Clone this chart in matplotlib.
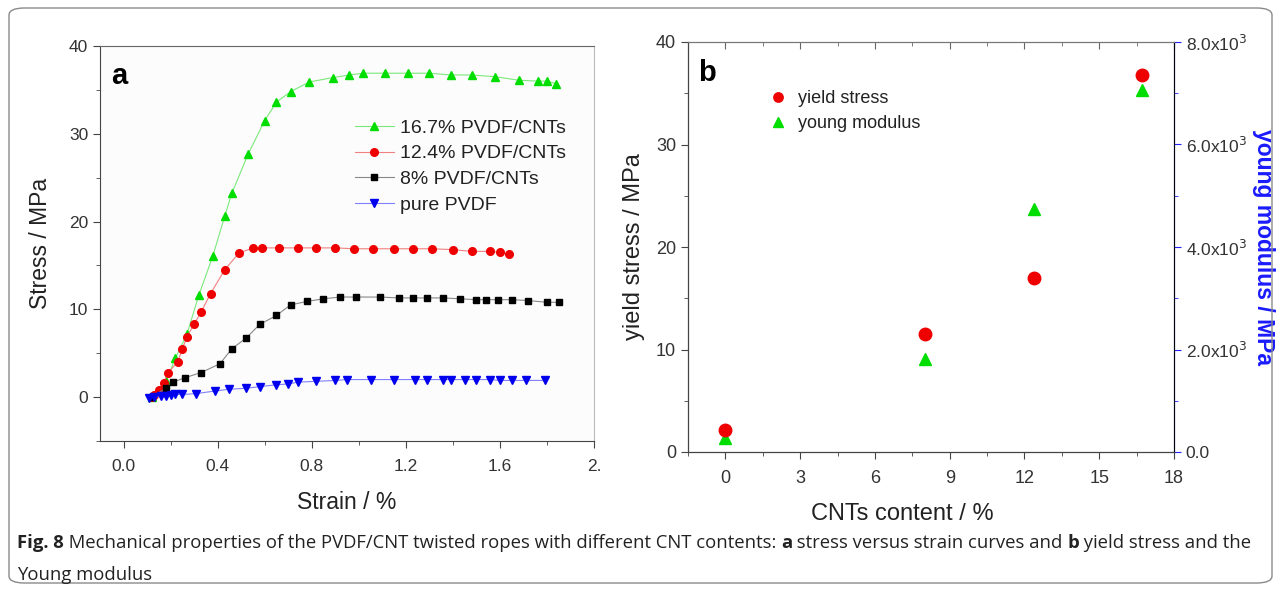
import matplotlib
matplotlib.use("Agg")
import matplotlib.pyplot as plt
from matplotlib.patches import FancyBboxPatch
from matplotlib.ticker import MultipleLocator, FixedLocator, FixedFormatter

plt.rcParams['font.family'] = ['Liberation Sans', 'DejaVu Sans']

# ---- panel a: stress vs strain ----
green_x = [0.12, 0.18, 0.22, 0.27, 0.32, 0.38, 0.43, 0.46, 0.53, 0.60, 0.65, 0.71, 0.79,
           0.89, 0.96, 1.02, 1.11, 1.21, 1.30, 1.39, 1.48, 1.58, 1.68, 1.76, 1.80, 1.84]
green_y = [0.0, 1.8, 4.4, 7.2, 11.6, 16.1, 20.6, 23.2, 27.7, 31.5, 33.6, 34.8, 35.9,
           36.4, 36.7, 36.9, 36.9, 36.9, 36.9, 36.7, 36.7, 36.5, 36.1, 36.0, 36.0, 35.7]

red_x = [0.12, 0.13, 0.15, 0.17, 0.19, 0.23, 0.25, 0.27, 0.30, 0.33, 0.37, 0.43, 0.49,
         0.55, 0.59, 0.66, 0.74, 0.82, 0.90, 0.98, 1.06, 1.15, 1.23, 1.31, 1.40, 1.48,
         1.56, 1.60, 1.64]
red_y = [0.0, 0.2, 0.8, 1.6, 2.8, 4.0, 5.5, 6.9, 8.3, 9.7, 11.8, 14.5, 16.4,
         17.0, 17.0, 17.0, 17.0, 17.0, 17.0, 16.9, 16.9, 16.9, 16.9, 16.9, 16.8, 16.6,
         16.6, 16.5, 16.3]

black_x = [0.12, 0.18, 0.21, 0.26, 0.33, 0.41, 0.46, 0.52, 0.58, 0.65, 0.71, 0.78, 0.85,
           0.92, 0.99, 1.09, 1.17, 1.23, 1.29, 1.36, 1.43, 1.50, 1.54, 1.59, 1.65, 1.72,
           1.80, 1.85]
black_y = [0.0, 1.0, 1.7, 2.2, 2.8, 3.8, 5.5, 6.7, 8.3, 9.3, 10.5, 10.9, 11.2,
           11.4, 11.4, 11.4, 11.3, 11.3, 11.3, 11.3, 11.2, 11.1, 11.1, 11.1, 11.1, 11.0,
           10.8, 10.8]

blue_x = [0.11, 0.13, 0.16, 0.18, 0.20, 0.22, 0.25, 0.31, 0.39, 0.45, 0.52, 0.58, 0.65,
          0.70, 0.74, 0.82, 0.90, 0.95, 1.05, 1.15, 1.24, 1.29, 1.36, 1.39, 1.45, 1.50,
          1.56, 1.60, 1.65, 1.71, 1.79]
blue_y = [-0.1, 0.0, 0.1, 0.1, 0.2, 0.3, 0.3, 0.4, 0.7, 0.9, 1.0, 1.2, 1.4,
          1.5, 1.7, 1.8, 1.9, 2.0, 2.0, 2.0, 2.0, 2.0, 2.0, 2.0, 2.0, 2.0,
          2.0, 1.9, 1.9, 1.9, 1.9]

a_labels = ['16.7% PVDF/CNTs', '12.4% PVDF/CNTs', '8% PVDF/CNTs', 'pure PVDF']

# ---- panel b: yield stress and young modulus ----
cnt_content = [0, 8, 12.4, 16.7]
yield_stress = [2.1, 11.5, 17.0, 36.8]
young_modulus = [270, 1810, 4750, 7070]
b_labels = ['yield stress', 'young modulus']
right_ticks = [0, 2000, 4000, 6000, 8000]
right_ticklabels = ['0.0', '2.0x10$^3$', '4.0x10$^3$', '6.0x10$^3$', '8.0x10$^3$']

W, H = 1281, 592
fig = plt.figure(figsize=(W / 100, H / 100), dpi=100)

# outer frame
frame = FancyBboxPatch((9 / W, 9 / H), 1263 / W, 575 / H,
                       boxstyle="round,pad=0,rounding_size=0.012",
                       transform=fig.transFigure, fill=False,
                       edgecolor='#8a8a8a', linewidth=1.0)
fig.patches.append(frame)

tick_col = '#333333'

# ===== panel a =====
ax = fig.add_axes([100 / W, 1 - 441 / H, 494 / W, 395 / H])
ax.set_facecolor('#fcfcfc')
series = [(green_x, green_y, '^', 6.0, '#00dd00', '#7be87b'),
          (red_x, red_y, 'o', 5.5, '#ee0000', '#f08080'),
          (black_x, black_y, 's', 4.5, '#000000', '#888888'),
          (blue_x, blue_y, 'v', 5.5, '#0000ee', '#8080ff')]
for (xs, ys, mk, ms, mc, lc), lab in zip(series, a_labels):
    ax.plot(xs, ys, color=lc, linewidth=0.8, marker=mk, markersize=ms,
            markerfacecolor=mc, markeredgecolor=mc, label=lab)

ax.set_xlim(-0.1, 2.0)
ax.set_ylim(-5, 40)
ax.xaxis.set_major_locator(FixedLocator([0.0, 0.4, 0.8, 1.2, 1.6, 2.0]))
ax.xaxis.set_major_formatter(FixedFormatter(['0.0', '0.4', '0.8', '1.2', '1.6', '2.']))
ax.xaxis.set_minor_locator(MultipleLocator(0.2))
ax.yaxis.set_major_locator(FixedLocator([0, 10, 20, 30, 40]))
ax.yaxis.set_minor_locator(MultipleLocator(5))
ax.tick_params(which='both', direction='out', colors='#444444', labelcolor=tick_col,
               labelsize=12.5)
ax.tick_params(which='major', length=5)
ax.tick_params(which='minor', length=3)
ax.tick_params(axis='x', pad=8)
ax.spines['left'].set_color('#444444')
ax.spines['bottom'].set_color('#444444')
ax.spines['top'].set_color('#666666')
ax.spines['right'].set_color('#bbbbbb')
ax.set_xlabel('Strain / %', fontsize=16.5, color='#222222', labelpad=12)
ax.set_ylabel('Stress / MPa', fontsize=16.5, color='#222222', labelpad=12)
ax.text(0.022, 0.925, 'a', transform=ax.transAxes, fontsize=21, fontweight='bold',
        va='center', ha='left')
ax.legend(loc='upper left', bbox_to_anchor=(0.50, 0.835), frameon=False,
          fontsize=14, handlelength=2.0, handletextpad=0.3, labelspacing=0.42,
          borderaxespad=0, labelcolor='#222222')

# ===== panel b =====
bx = fig.add_axes([688 / W, 1 - 452 / H, 486 / W, 410 / H])
bx.plot(cnt_content, yield_stress, linestyle='none', marker='o', markersize=9,
        color='#ee0000', label=b_labels[0])
bx.set_xlim(-1.5, 18)
bx.set_ylim(0, 40)
bx.xaxis.set_major_locator(MultipleLocator(3))
bx.xaxis.set_minor_locator(MultipleLocator(1.5))
bx.yaxis.set_major_locator(MultipleLocator(10))
bx.yaxis.set_minor_locator(MultipleLocator(5))
bx.tick_params(which='both', direction='out', colors='#444444', labelcolor=tick_col,
               labelsize=13)
bx.tick_params(which='major', length=5)
bx.tick_params(which='minor', length=3)
bx.tick_params(axis='x', pad=8)
bx.spines['left'].set_color('#444444')
bx.spines['bottom'].set_color('#444444')
bx.spines['top'].set_color('#777777')
bx.set_xlabel('CNTs content / %', fontsize=17, color='#222222', labelpad=12)
bx.xaxis.set_label_coords(0.44, -0.125)
bx.set_ylabel('yield stress / MPa', fontsize=17, color='#222222', labelpad=8)

# top ticks point inward
top = bx.secondary_xaxis('top')
top.xaxis.set_major_locator(MultipleLocator(3))
top.xaxis.set_minor_locator(MultipleLocator(1.5))
top.tick_params(which='both', direction='in', colors='#666666', labeltop=False)
top.tick_params(which='major', length=5)
top.tick_params(which='minor', length=3)
top.spines['top'].set_color('#777777')

tx = bx.twinx()
tx.plot(cnt_content, young_modulus, linestyle='none', marker='^', markersize=9,
        color='#00dd00', label=b_labels[1])
tx.set_ylim(0, 8000)
tx.yaxis.set_major_locator(FixedLocator(right_ticks))
tx.yaxis.set_major_formatter(FixedFormatter(right_ticklabels))
tx.yaxis.set_minor_locator(MultipleLocator(1000))
tx.tick_params(which='both', direction='out', colors='#2222ff', labelcolor=tick_col,
               labelsize=12.5)
tx.tick_params(which='major', length=5)
tx.tick_params(which='minor', length=3)
tx.spines['right'].set_color('#3333ff')
tx.spines['top'].set_visible(False)
tx.set_ylabel('young modulus / MPa', fontsize=16.5, color='#1a1aff', rotation=270,
              labelpad=20, fontweight='bold')
bx.set_zorder(tx.get_zorder() + 1)
bx.patch.set_visible(False)
tx.patch.set_facecolor('#fcfcfc')

bx.text(0.02, 0.925, 'b', transform=bx.transAxes, fontsize=21, fontweight='bold',
        va='center', ha='left')
h1, l1 = bx.get_legend_handles_labels()
h2, l2 = tx.get_legend_handles_labels()
bx.legend(h1 + h2, l1 + l2, loc='upper left', bbox_to_anchor=(0.155, 0.90),
          frameon=False, fontsize=13, handlelength=0.8, handletextpad=0.7,
          markerscale=0.75, labelspacing=0.45, borderaxespad=0, labelcolor='#222222')

# ===== caption =====
renderer = fig.canvas.get_renderer()
cap_font = ['Open Sans', 'DejaVu Sans']
line1 = [('Fig. 8', True),
         (' Mechanical properties of the PVDF/CNT twisted ropes with different CNT contents: ', False),
         ('a', True), (' stress versus strain curves and ', False), ('b', True),
         (' yield stress and the', False)]
x = 17
for txt, bold in line1:
    t = fig.text(x / W, 1 - 543 / H, txt, fontsize=13.3, family=cap_font,
                 fontweight='bold' if bold else 'normal', va='center', ha='left',
                 color='#222222')
    x += t.get_window_extent(renderer=renderer).width
fig.text(17 / W, 1 - 575 / H, 'Young modulus', fontsize=13.3, family=cap_font,
         va='center', ha='left', color='#222222')

fig.savefig('out.png', dpi=100)
